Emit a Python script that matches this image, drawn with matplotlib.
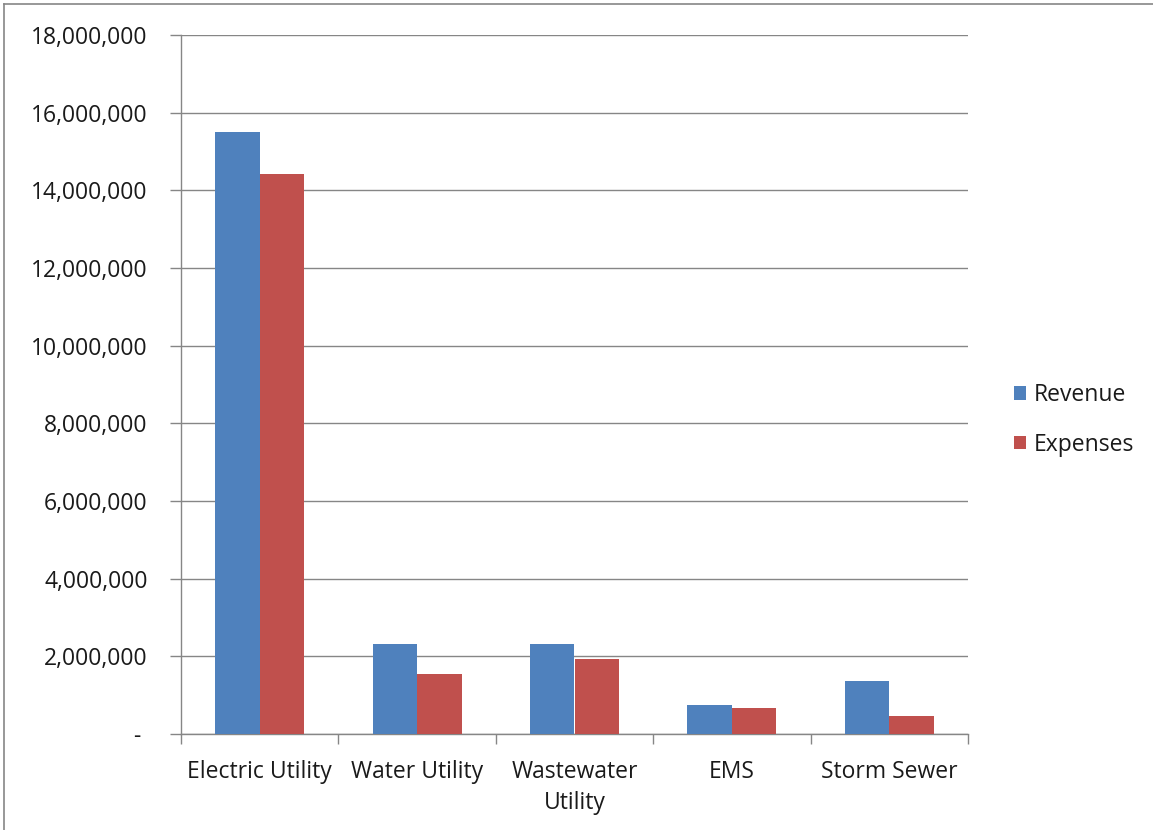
import numpy as np
import matplotlib

matplotlib.use("Agg")
import matplotlib.pyplot as plt
from matplotlib.ticker import FuncFormatter
from matplotlib.lines import Line2D

categories = ["Electric Utility", "Water Utility", "Wastewater\nUtility", "EMS", "Storm Sewer"]
revenue = [15500000, 2310000, 2310000, 740000, 1360000]
expenses = [14420000, 1540000, 1930000, 660000, 460000]

BLUE = "#4F81BD"
RED = "#C0504D"
GRID = "#868686"
TEXT = "#1a1a1a"

plt.rcParams["font.family"] = ["Open Sans", "DejaVu Sans"]

fig = plt.figure(figsize=(11.53, 8.30), dpi=100)
ax = fig.add_axes([181 / 1153, 1 - 734 / 830, 787 / 1153, 699 / 830])

x = np.arange(len(categories))
w = 0.283
ax.bar(x - w / 2, revenue, w, color=BLUE, label="Revenue", zorder=3)
ax.bar(x + w / 2, expenses, w, color=RED, label="Expenses", zorder=3)

ax.set_xlim(-0.5, len(categories) - 0.5)
ax.set_ylim(0, 18000000)
ax.set_yticks(np.arange(0, 18000001, 2000000))
ax.yaxis.set_major_formatter(FuncFormatter(lambda v, p: "- " if v == 0 else f"{v:,.0f}"))
ax.grid(axis="y", color=GRID, linewidth=1, zorder=0)

ax.set_xticks(x)
ax.set_xticklabels(categories, fontsize=16.5, color=TEXT, linespacing=1.35)
ax.set_xticks(np.arange(-0.5, len(categories)), minor=True)
ax.tick_params(axis="x", which="major", length=0, pad=19)
ax.tick_params(axis="x", which="minor", length=7, color=GRID, width=1)
ax.tick_params(axis="y", length=8, color=GRID, width=1, pad=16,
               labelsize=16.5, labelcolor=TEXT)

for side in ["top", "right"]:
    ax.spines[side].set_visible(False)
for side in ["left", "bottom"]:
    ax.spines[side].set_color(GRID)
    ax.spines[side].set_linewidth(1)

fig.legend(loc="center left", bbox_to_anchor=(993 / 1153, 1 - 420 / 830),
           frameon=False, fontsize=16.5, handlelength=0.55, handleheight=0.55,
           handletextpad=0.35, labelspacing=1.1, labelcolor=TEXT)

# chart border
fig.add_artist(Line2D([4 / 1153, 4 / 1153], [0, 1 - 4 / 830], color=GRID, lw=1.2))
fig.add_artist(Line2D([4 / 1153, 1], [1 - 4 / 830, 1 - 4 / 830], color=GRID, lw=1.2))

fig.savefig("out.png", dpi=100)
